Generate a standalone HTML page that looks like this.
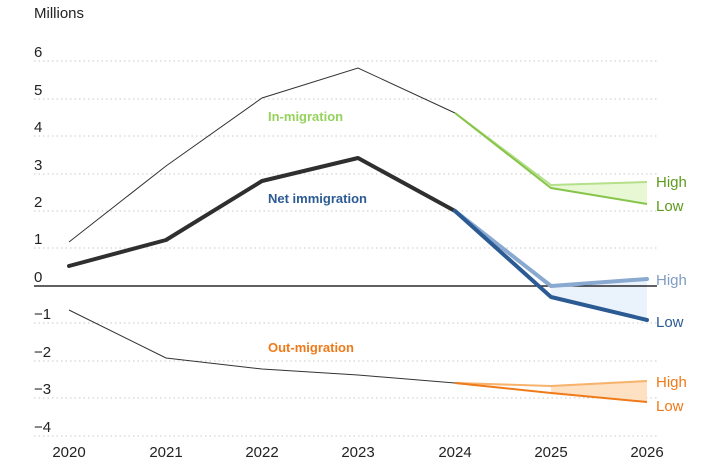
<!DOCTYPE html><html><head><style>body{margin:0;background:#fff}svg{display:block}text{font-family:"Liberation Sans",sans-serif}</style></head><body>
<svg width="710" height="473" xmlns="http://www.w3.org/2000/svg">
<g stroke="#c8c8c8" stroke-dasharray="1.5,3" stroke-width="1">
<line x1="34" x2="657" y1="61" y2="61"/><line x1="34" x2="657" y1="99" y2="99"/><line x1="34" x2="657" y1="136" y2="136"/><line x1="34" x2="657" y1="174" y2="174"/><line x1="34" x2="657" y1="211" y2="211"/><line x1="34" x2="657" y1="248" y2="248"/><line x1="34" x2="657" y1="323" y2="323"/><line x1="34" x2="657" y1="361" y2="361"/><line x1="34" x2="657" y1="398" y2="398"/><line x1="34" x2="657" y1="436" y2="436"/>
</g>
<g font-size="15" fill="#222">
<text x="34" y="18">Millions</text>
<text x="34" y="57">6</text><text x="34" y="95">5</text><text x="34" y="132">4</text><text x="34" y="170">3</text><text x="34" y="207">2</text><text x="34" y="244">1</text><text x="34" y="282">0</text><text x="34" y="319">−1</text><text x="34" y="357">−2</text><text x="34" y="394">−3</text><text x="34" y="432">−4</text>
</g>
<g font-size="15" fill="#222" text-anchor="middle">
<text x="69" y="457">2020</text><text x="166" y="457">2021</text><text x="262" y="457">2022</text><text x="358" y="457">2023</text><text x="455" y="457">2024</text><text x="551" y="457">2025</text><text x="647" y="457">2026</text>
</g>
<!-- fills -->
<polygon points="551,185 647,182 647,204 551,188" fill="#e8f7d4"/>
<polygon points="551,286 647,279 647,320 551,297" fill="#eaf2fc"/>
<polygon points="551,386 647,381 647,402 551,393" fill="#fde1c2"/>
<line x1="34" x2="657" y1="286" y2="286" stroke="#000" stroke-width="1.2"/>
<!-- in -->
<polyline points="69,242 166,166 262,98 358,68 455,113" fill="none" stroke="#333" stroke-width="1"/>
<polyline points="455,113 551,185 647,182" fill="none" stroke="#b4e08a" stroke-width="2"/>
<polyline points="455,113 551,188 647,204" fill="none" stroke="#86c44a" stroke-width="2"/>
<!-- out -->
<polyline points="69,310 166,358 262,369 358,375 455,383" fill="none" stroke="#333" stroke-width="1"/>
<polyline points="455,383 551,386 647,381" fill="none" stroke="#f7b26b" stroke-width="2"/>
<polyline points="455,383 551,393 647,402" fill="none" stroke="#ef7a1a" stroke-width="2"/>
<!-- net -->
<polyline points="69,266 166,240 262,181 358,158 455,211" fill="none" stroke="#2f2f2f" stroke-width="4" stroke-linejoin="round" stroke-linecap="round"/>
<polyline points="455,211 551,286 647,279" fill="none" stroke="#8aa9d0" stroke-width="4" stroke-linejoin="round" stroke-linecap="round"/>
<polyline points="455,211 551,297 647,320" fill="none" stroke="#2c5b94" stroke-width="4" stroke-linejoin="round" stroke-linecap="round"/>
<g font-size="13" font-weight="bold">
<text x="268" y="121" fill="#95d25e">In-migration</text>
<text x="268" y="203" fill="#2c5b94">Net immigration</text>
<text x="268" y="352" fill="#ef7a1a">Out-migration</text>
</g>
<g font-size="15">
<text x="656" y="187" fill="#5f9a1e">High</text><text x="656" y="211" fill="#5f9a1e">Low</text>
<text x="656" y="285" fill="#7f9cc2">High</text><text x="656" y="327" fill="#2c5b94">Low</text>
<text x="656" y="387" fill="#ef7a1a">High</text><text x="656" y="411" fill="#ef7a1a">Low</text>
</g>
</svg></body></html>
